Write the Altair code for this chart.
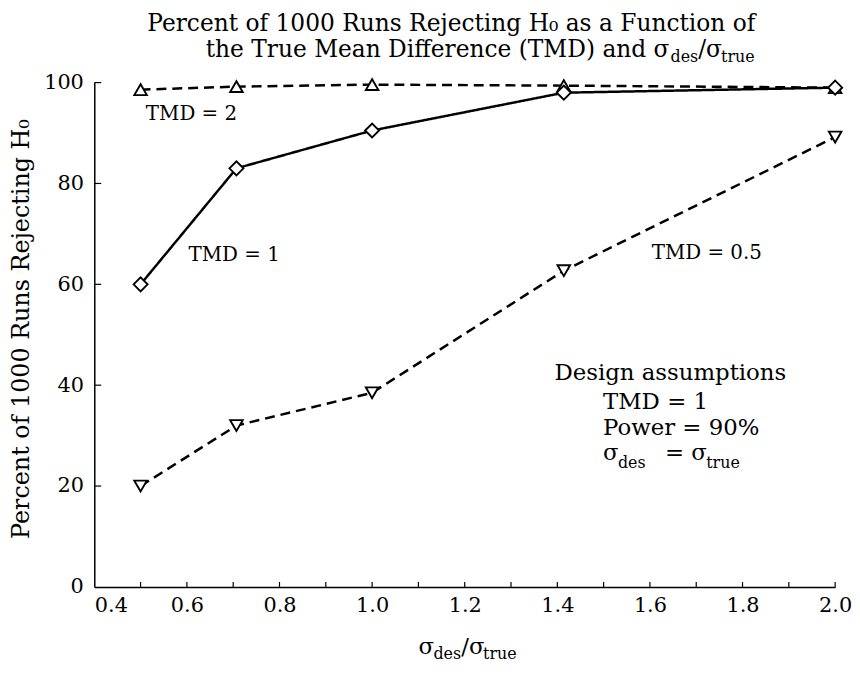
import altair as alt
import pandas as pd

# ---- data ----
ratio = [0.5, 0.707, 1.0, 1.414, 2.0]
tmd_2 = [98.6, 99.2, 99.6, 99.4, 99.0]
tmd_1 = [60.0, 83.0, 90.5, 98.0, 99.0]
tmd_05 = [20.0, 32.0, 38.5, 62.7, 89.2]

x_label_values = [0.4, 0.6, 0.8, 1.0, 1.2, 1.4, 1.6, 1.8, 2.0]
x_minor_ticks = [0.5, 0.6, 0.7, 0.8, 0.9, 1.0, 1.1, 1.2, 1.3, 1.4, 1.5, 1.6, 1.7, 1.8, 1.9, 2.0]
y_label_values = [0, 20, 40, 60, 80, 100]
y_inner_ticks = [20, 40, 60, 80, 100]

FONT = "DejaVu Serif"
W, H = 747, 508.5

xscale = alt.Scale(domain=[0.4, 2.0], nice=False, zero=False)
yscale = alt.Scale(domain=[0, 100], nice=False, zero=True)

xaxis = alt.Axis(
    values=x_label_values, format=".1f", ticks=False, grid=False, title=None,
    domainColor="black", domainWidth=1.5, labelFont=FONT, labelFontSize=21,
    labelColor="black", labelPadding=8, labelFlush=False,
    labelAlign={"expr": "datum.value < 0.45 ? 'left' : 'center'"},
)
yaxis = alt.Axis(
    values=y_label_values, format="d", ticks=False, grid=False,
    title="Percent of 1000 Runs Rejecting H\u2080",
    titleFont=FONT, titleFontSize=24, titleFontWeight="normal", titleColor="black",
    titleX=-73, titleY=248, titleAngle=-90, titleAlign="center", titleBaseline="middle",
    domainColor="black", domainWidth=1.5, labelFont=FONT, labelFontSize=21,
    labelColor="black", labelPadding=11,
)

def series_df(ys):
    return pd.DataFrame({"x": ratio, "y": ys})

X = alt.X("x:Q", scale=xscale, axis=xaxis)
Y = alt.Y("y:Q", scale=yscale, axis=yaxis)

layers = []
for ys, dash, shape, size in [
    (tmd_2, [10, 6], "triangle-up", 160),
    (tmd_1, [1, 0], "diamond", 200),
    (tmd_05, [10, 6], "triangle-down", 160),
]:
    d = series_df(ys)
    layers.append(alt.Chart(d).mark_line(color="black", strokeWidth=2.5, strokeDash=dash).encode(x=X, y=Y))
    layers.append(alt.Chart(d).mark_point(shape=shape, size=size, filled=True, fill="white",
                                          stroke="black", strokeWidth=1.9, opacity=1).encode(x=X, y=Y))

xt = pd.DataFrame({"x": x_minor_ticks})
ticks_x = alt.Chart(xt).mark_rule(color="black", strokeWidth=1.2).encode(
    x=X, y=alt.value(H), y2=alt.value(H - 5))
yt = pd.DataFrame({"y": y_inner_ticks})
ticks_y = alt.Chart(yt).mark_rule(color="black", strokeWidth=1.2).encode(
    y=Y, x=alt.value(0), x2=alt.value(7))

one = pd.DataFrame({"a": [0]})

def txt(s, x, y, size, align="left"):
    return alt.Chart(one).mark_text(
        text=s, font=FONT, fontSize=size, color="black", align=align, baseline="alphabetic"
    ).encode(x=alt.value(x), y=alt.value(y))

BS = 23  # design-assumption block font size
texts = [
    # title
    txt("Percent of 1000 Runs Rejecting H\u2080 as a Function of", 360, -52, 23.5, "center"),
    txt("the True Mean Difference (TMD) and \u03c3", 580, -26, 23.5, "right"),
    txt("des", 581, -20.5, 16),
    txt("/\u03c3", 609, -26, 23.5),
    txt("true", 632, -20.5, 16),
    # curve labels
    txt("TMD = 2", 52, 37.5, 20),
    txt("TMD = 1", 95, 179.5, 20),
    txt("TMD = 0.5", 562, 177.5, 20),
    # design assumptions
    txt("Design assumptions", 464, 300, BS),
    txt("TMD = 1", 513, 329, BS),
    txt("Power = 90%", 513, 355, BS),
    txt("\u03c3", 513, 381, BS),
    txt("des", 528, 389, 16),
    txt("=", 585, 381, BS, "center"),
    txt("\u03c3", 602, 381, BS),
    txt("true", 617, 389, 16),
    # x title
    txt("\u03c3", 327, 576, 23),
    txt("des", 342, 581, 16),
    txt("/\u03c3", 370, 576, 23),
    txt("true", 392, 581, 16),
]

chart = alt.layer(ticks_x, ticks_y, *layers, *texts).properties(
    width=W, height=H,
    padding={"left": 87, "top": 72.5, "right": 17, "bottom": 74},
    autosize=alt.AutoSizeParams(type="none"),
    background="white",
).configure_view(strokeWidth=0)

chart.save("out.html", embed_options={"renderer": "svg", "actions": False})
